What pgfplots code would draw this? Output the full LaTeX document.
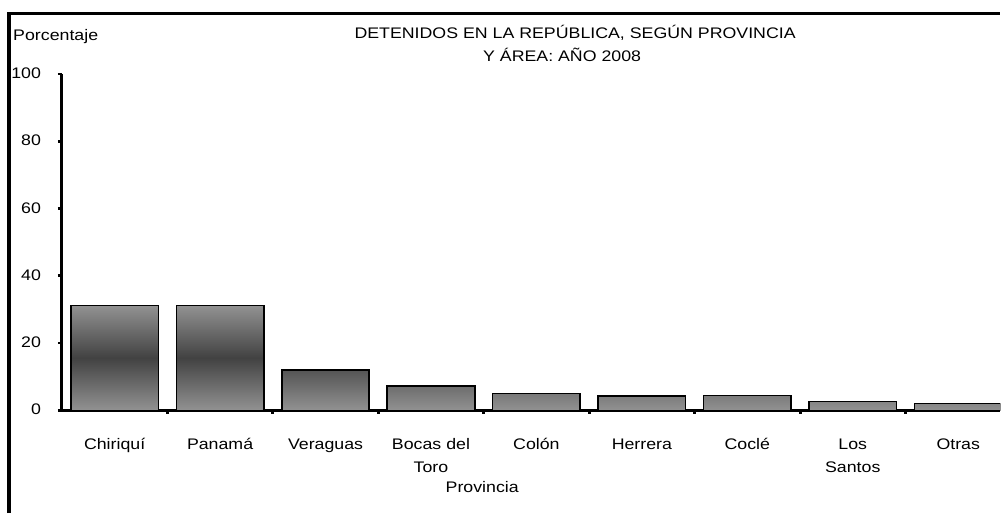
\documentclass[border=0pt]{standalone}
\usepackage{fontspec}
\setmainfont{Liberation Sans}[FakeStretch=1.16]
\usepackage{pgfplots}
\pgfplotsset{compat=1.18}
\definecolor{barlight}{RGB}{146,146,146}
\definecolor{bardark}{RGB}{66,66,66}
\begin{document}
\begin{tikzpicture}[x=0.75pt,y=0.75pt,font=\fontsize{11.5}{17.25}\selectfont]
\path (0,0) rectangle (1002,514);
% outer frame (runs on beyond the picture on the right and bottom)
\draw[line width=2.3pt] (9,0) -- (9,500.5) -- (1002,500.5);
\begin{axis}[
  at={(46.5pt,77.25pt)}, anchor=south west,
  scale only axis,
  width=705pt, height=252.75pt,
  xmin=-0.5, xmax=8.40, ymin=0, ymax=100,
  axis x line=bottom, axis y line=left,
  axis line style={-, line width=2.4pt},
  ytick={0,20,40,60,80,100},
  xtick={0,...,8},
  xticklabels={Chiriquí,Panamá,Veraguas,{Bocas del\\Toro},Colón,Herrera,Coclé,{Los\\Santos},Otras},
  typeset ticklabels with strut,
  xticklabel style={align=center, anchor=north, inner sep=0pt, yshift=-14.2pt},
  yticklabel style={anchor=east, inner sep=0pt, xshift=-12.5pt},
  /pgf/number format/assume math mode=true,
  tick align=outside,
  major x tick style={draw=none},
  major y tick style={line width=2pt, black},
  major tick length=3pt,
  minor xtick={0.5,1.5,...,7.5},
  minor x tick style={line width=2.2pt, black},
  minor tick length=2.5pt,
  ybar, bar width=0.83, bar shift=0pt,
]
\addplot[draw=black, line width=1.2pt, shading=axis, top color=barlight, bottom color=barlight, middle color=bardark]
  coordinates {(0,31.2) (1,31.2) (2,12.0) (3,7.3) (4,5.0) (5,4.3) (6,4.4) (7,2.6) (8,2.0)};
\end{axis}
\node[anchor=base west, inner sep=0pt] at (13,473) {Porcentaje};
\node[anchor=base, inner sep=0pt] at (576,475) {DETENIDOS EN LA REPÚBLICA, SEGÚN PROVINCIA};
\node[anchor=base, inner sep=0pt] at (563,452) {Y ÁREA: AÑO 2008};
\node[anchor=base, inner sep=0pt] at (483,21) {Provincia};
\end{tikzpicture}
\end{document}
